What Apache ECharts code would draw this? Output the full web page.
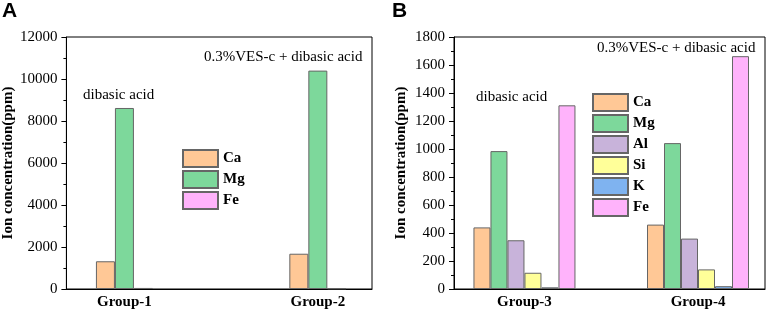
<!DOCTYPE html>
<html><head><meta charset="utf-8">
<script src="https://cdn.jsdelivr.net/npm/echarts@6/dist/echarts.min.js"></script>
<style>html,body{margin:0;padding:0;background:#fff}#c{width:768px;height:310px}</style>
</head><body><div id="c"></div>
<script>
const groupsA = ['Group-1', 'Group-2'];
const groupsB = ['Group-3', 'Group-4'];
const ionsA = ['Ca', 'Mg', 'Fe'];
const ionsB = ['Ca', 'Mg', 'Al', 'Si', 'K', 'Fe'];
const caA = [1320, 1680];
const mgA = [8620, 10400];
const feA = [50, 30];
const caB = [440, 460];
const mgB = [985, 1042];
const alB = [348, 360];
const siB = [116, 140];
const kB = [12, 20];
const feB = [1312, 1663];
const yTicksA = [0, 2000, 4000, 6000, 8000, 10000, 12000];
const yTicksB = [0, 200, 400, 600, 800, 1000, 1200, 1400, 1600, 1800];

const colors = {Ca:'#FFC896', Mg:'#7DD89B', Al:'#C8B3DA', Si:'#FFFF99', K:'#7FB3F0', Fe:'#FFB3FB'};
const serif = 'Liberation Serif';
const valsA = {Ca: caA, Mg: mgA, Fe: feA};
const valsB = {Ca: caB, Mg: mgB, Al: alB, Si: siB, K: kB, Fe: feB};

function xAxis(gi, groups, min, max) {
  return {
    type: 'value', gridIndex: gi, min: min, max: max,
    splitLine: {show: false},
    axisLine: {show: true, lineStyle: {color: '#000', width: 1}},
    axisTick: {show: false},
    axisLabel: {customValues: groups.map((g, i) => i + 1),
      formatter: v => groups[Math.round(v) - 1] || '',
      fontFamily: serif, fontWeight: 'bold', fontSize: 15, color: '#000', margin: 6}
  };
}
function yAxis(gi, ticks, gap) {
  return {
    type: 'value', gridIndex: gi, min: ticks[0], max: ticks[ticks.length - 1],
    interval: ticks[1] - ticks[0],
    name: 'Ion concentration(ppm)', nameLocation: 'middle', nameRotate: 90, nameGap: gap,
    nameTextStyle: {fontFamily: serif, fontWeight: 'bold', fontSize: 15, color: '#000'},
    splitLine: {show: false},
    axisLine: {show: true, lineStyle: {color: '#000', width: 1}},
    axisTick: {show: true, inside: false, length: 5, lineStyle: {color: '#000'}},
    minorTick: {show: true, splitNumber: 2, length: 3, lineStyle: {color: '#000'}},
    axisLabel: {fontFamily: serif, fontSize: 15, color: '#000', margin: 9, formatter: v => String(v)}
  };
}
function barSeries(ions, vals, groups, xi, w) {
  return ions.map(n => ({
    type: 'bar', name: n, xAxisIndex: xi, yAxisIndex: xi,
    barWidth: w, barGap: '0%',
    itemStyle: {color: colors[n], borderColor: '#666', borderWidth: 1},
    data: groups.map((g, i) => [i + 1, vals[n][i]])
  }));
}
function legend(ions, left, top) {
  return {
    orient: 'vertical', left: left, top: top, itemWidth: 35, itemHeight: 17, itemGap: 2,
    icon: 'rect', selectedMode: false, data: ions,
    textStyle: {fontFamily: serif, fontWeight: 'bold', fontSize: 15, color: '#000'}
  };
}

const chart = echarts.init(document.getElementById('c'));
chart.setOption({
  animation: false,
  grid: [
    {left: 65, top: 37, width: 307, height: 252, show: true, borderColor: '#000', borderWidth: 1},
    {left: 454, top: 37, width: 311, height: 252, show: true, borderColor: '#000', borderWidth: 1}
  ],
  xAxis: [xAxis(0, groupsA, 0.7, 2.28), xAxis(1, groupsB, 0.594, 2.386)],
  yAxis: [yAxis(0, yTicksA, 50), yAxis(1, yTicksB, 45)],
  legend: [legend(ionsA, 177, 144), legend(ionsB, 587, 88)],
  series: barSeries(ionsA, valsA, groupsA, 0, 19).concat(barSeries(ionsB, valsB, groupsB, 1, 17)),
  graphic: [
    {type: 'text', left: 2, top: 1, style: {text: 'A', font: 'bold 21px "Liberation Sans"', fill: '#000'}},
    {type: 'text', left: 392, top: 1, style: {text: 'B', font: 'bold 21px "Liberation Sans"', fill: '#000'}},
    {type: 'text', left: 83, top: 88, style: {text: 'dibasic acid', font: '15px "Liberation Serif"', fill: '#000'}},
    {type: 'text', left: 204, top: 50, style: {text: '0.3%VES-c + dibasic acid', font: '15px "Liberation Serif"', fill: '#000'}},
    {type: 'text', left: 476, top: 90, style: {text: 'dibasic acid', font: '15px "Liberation Serif"', fill: '#000'}},
    {type: 'text', left: 597, top: 41, style: {text: '0.3%VES-c + dibasic acid', font: '15px "Liberation Serif"', fill: '#000'}}
  ]
});
</script></body></html>
